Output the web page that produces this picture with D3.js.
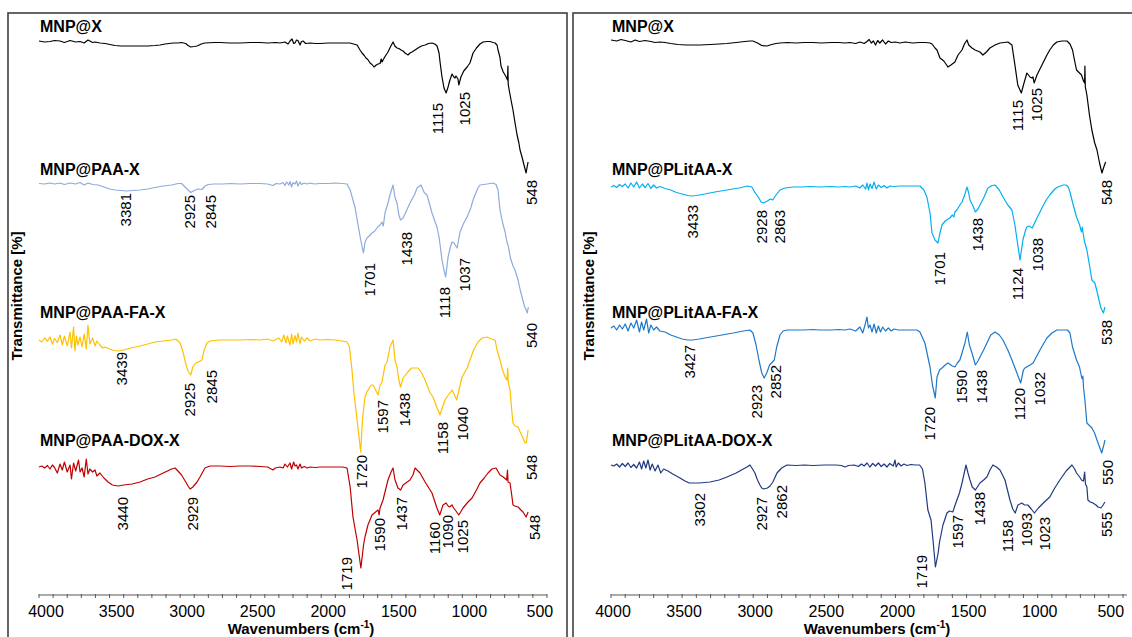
<!DOCTYPE html>
<html><head><meta charset="utf-8">
<script src="https://cdn.jsdelivr.net/npm/d3@7"></script>
<style>body{margin:0;background:#fff;} svg{display:block;font-family:"Liberation Sans",Arial,sans-serif;}</style>
</head><body><svg id="c" width="1132" height="637"></svg>
<script>
// ---------------- DATA ----------------
const tickLabels = [4000, 3500, 3000, 2500, 2000, 1500, 1000, 500];
const leftNames = ["MNP@X", "MNP@PAA-X", "MNP@PAA-FA-X", "MNP@PAA-DOX-X"];
const rightNames = ["MNP@X", "MNP@PLitAA-X", "MNP@PLitAA-FA-X", "MNP@PLitAA-DOX-X"];

// spectra: [wavenumber (cm-1), transmittance (offset, %)]
const L1 = [[4000,111.8],[3960,111.6],[3922,111.7],[3890,111.9],[3851,111.8],[3820,111.5],[3780,111.9],[3740,111.6],[3709,111.7],[3680,111.4],[3653,112],[3620,111.5],[3603,111.6],[3568,111.4],[3532,111.3],[3497,111.1],[3461,110.9],[3420,110.8],[3391,110.8],[3340,110.8],[3284,110.8],[3230,110.8],[3178,110.9],[3142,111],[3107,111.2],[3050,111.4],[3015,111.4],[2990,111.5],[2960,111.3],[2944,110.9],[2925,110.6],[2900,110.7],[2880,110.8],[2850,111.2],[2824,111.4],[2760,111.5],[2717,111.5],[2650,111.4],[2575,111.4],[2500,111.5],[2434,111.5],[2380,111.4],[2320,111.5],[2292,111.4],[2257,111.6],[2235,111.2],[2221,111.8],[2207,112.2],[2195,111.3],[2186,111.4],[2175,112],[2165,111.9],[2150,111],[2140,111.7],[2129,111.8],[2110,111.3],[2079,111.4],[2040,111.3],[2009,111.3],[1950,111.4],[1902,111.4],[1850,111.4],[1796,111.4],[1746,111],[1725,110],[1711,109.4],[1695,108.9],[1683,108.4],[1670,108.1],[1654,107.4],[1640,107.1],[1626,106.6],[1610,107],[1597,107.2],[1583,107.3],[1575,108.2],[1569,107.6],[1550,108.6],[1527,109.6],[1510,110.6],[1491,111.6],[1478,110.8],[1463,110.4],[1450,110.3],[1434,110],[1420,109.8],[1406,109.4],[1385,109],[1371,109.4],[1357,109.6],[1335,110],[1314,110.4],[1290,110.8],[1264,111],[1240,111.3],[1215,111.4],[1195,111.2],[1179,110.8],[1165,109.4],[1158,107.6],[1144,104.6],[1130,102.4],[1115,101.4],[1101,102.6],[1090,103.8],[1073,105.2],[1060,104.6],[1052,104.4],[1045,104.8],[1031,104.2],[1025,103],[1010,104.6],[990,105.8],[966,106.6],[946,107.4],[924,109.4],[900,110.4],[875,111.2],[853,111.6],[825,111.7],[804,111.7],[782,111.5],[768,111.4],[754,111],[747,110],[733,108.5],[726,106.8],[710,105.6],[697,105],[686,104.4],[680,104],[677,106.8],[675,103.2],[668,102],[655,100],[641,98],[627,95.5],[612,93],[600,91.5],[591,90],[577,88.6],[563,87],[548,85.4],[541,86.6],[534,87.6]];

const L2 = [[4000,83.3],[3960,83.2],[3922,83.4],[3890,83.2],[3851,83.4],[3820,83.1],[3780,83.4],[3740,83.2],[3709,83.5],[3680,83],[3653,83.4],[3620,83.1],[3580,83],[3540,82.6],[3500,82.2],[3460,82],[3420,81.9],[3381,81.8],[3340,81.9],[3284,82],[3230,82.2],[3178,82.5],[3120,82.8],[3060,83],[3015,83.3],[2990,83.3],[2965,82.6],[2944,82],[2925,81.5],[2900,81.9],[2870,82.2],[2845,82.1],[2824,82.8],[2800,83.1],[2760,83.2],[2700,83.2],[2640,83.3],[2575,83.2],[2500,83.3],[2434,83.3],[2380,83.2],[2342,82.9],[2320,83.3],[2292,83.2],[2270,83.5],[2257,82.9],[2245,83.6],[2230,83],[2221,83.7],[2210,82.6],[2200,83.5],[2186,83.2],[2175,83.8],[2165,82.8],[2150,83.6],[2140,83.1],[2120,83.4],[2100,83.2],[2079,83.4],[2050,83.2],[2009,83.3],[1950,83.3],[1902,83.4],[1850,83.3],[1817,83.2],[1795,82],[1761,78.6],[1739,75],[1720,72],[1701,69.4],[1690,71.5],[1676,72.4],[1660,72.8],[1640,73.4],[1620,73.8],[1600,74.6],[1583,75],[1570,75.6],[1560,74.8],[1548,77.4],[1527,79.4],[1513,81],[1491,83],[1477,80.5],[1463,79.4],[1450,77],[1438,76],[1420,76.4],[1400,77.6],[1371,79.4],[1340,81],[1321,82.4],[1293,83],[1270,81.5],[1250,81],[1215,77.4],[1180,74.6],[1165,72.6],[1144,68],[1130,66],[1118,64.6],[1101,68.6],[1085,70.6],[1073,71.6],[1059,71.4],[1050,71],[1037,70.4],[1016,73.6],[990,75.4],[966,76.6],[940,78.4],[924,80],[890,82.4],[875,83],[825,83.2],[782,83.4],[761,83.1],[747,82],[733,78],[715,75.5],[697,73.6],[683,71.5],[676,71],[660,68.5],[641,66.8],[627,66],[605,64],[590,62],[577,60.6],[560,58.8],[548,58],[540,57.4],[532,58.6]];

const L3 = [[4000,52],[3980,51.6],[3960,52.4],[3940,51.8],[3922,52.6],[3905,51.2],[3890,52.3],[3870,51.5],[3851,53],[3835,51],[3820,52.8],[3800,50.8],[3780,53.6],[3770,50.4],[3755,54.6],[3745,49.8],[3735,52.8],[3725,51],[3709,52.6],[3695,50.6],[3680,53.2],[3665,50.2],[3653,55],[3640,51.2],[3620,52.4],[3603,50.8],[3590,51.8],[3568,51],[3550,50.4],[3532,50.6],[3500,50.2],[3470,49.9],[3439,49.8],[3400,50],[3350,50.4],[3284,50.8],[3230,51.2],[3178,51.6],[3120,51.8],[3060,52],[3030,52.2],[3000,51.4],[2979,49.6],[2958,47],[2944,45.8],[2925,45],[2910,46.6],[2890,47.4],[2870,47.6],[2845,48],[2830,50],[2810,51.4],[2788,51.8],[2717,52],[2650,52],[2575,52],[2500,52.1],[2434,52],[2380,52.2],[2342,51.8],[2300,52.4],[2280,51.6],[2265,53],[2250,51.4],[2240,52.8],[2221,51],[2210,53.2],[2200,51.2],[2186,52.9],[2175,51.6],[2165,53.4],[2150,51.2],[2140,52.6],[2120,51.8],[2100,52.4],[2079,51.8],[2040,52.2],[2009,52],[1950,52.1],[1902,52],[1850,51.8],[1817,51.6],[1800,50.6],[1782,46],[1768,41.4],[1746,36],[1720,29.6],[1708,36],[1690,40.6],[1676,41.6],[1660,42.4],[1645,43],[1633,43],[1615,42],[1597,41],[1583,43],[1569,43.6],[1548,47],[1534,47.5],[1513,50.6],[1491,52],[1477,48],[1463,46.6],[1450,44],[1438,42.6],[1420,44.4],[1392,45.4],[1360,46.4],[1335,46.4],[1314,46.4],[1290,45.5],[1264,44],[1230,41.5],[1208,40.6],[1180,38.5],[1158,37],[1140,38.6],[1123,40],[1100,41],[1073,42],[1059,41.2],[1040,40],[1016,43],[1002,44.6],[966,46.4],[946,48],[920,50],[889,51.6],[860,52.4],[825,52.6],[795,52.2],[768,52],[754,50],[733,48],[715,46],[697,44.6],[684,44],[678,46.4],[675,43.6],[662,42],[650,38],[641,35.4],[627,34.8],[605,34.6],[590,33.6],[570,32.4],[556,31.4],[548,31.4],[541,32.5],[534,34]];

const L4 = [[4000,26.6],[3980,26.8],[3960,26.4],[3940,26.9],[3922,26.2],[3905,27],[3890,26.5],[3870,25.4],[3851,27.2],[3835,26],[3820,27.6],[3800,25.6],[3780,27],[3770,24.2],[3755,27.4],[3740,25.8],[3720,28],[3709,25.6],[3695,26.4],[3680,24.6],[3665,28.2],[3653,25.2],[3640,26.2],[3620,25.6],[3603,26],[3590,24.8],[3568,25.4],[3540,24.4],[3510,23.6],[3480,23],[3440,22.8],[3400,23],[3340,23.2],[3284,23.6],[3230,24.2],[3178,24.6],[3120,25.4],[3060,26.2],[3036,26.4],[3015,25.8],[2990,25],[2960,23.6],[2944,22.8],[2929,22.2],[2910,22.6],[2880,23.6],[2859,24.6],[2824,26.4],[2788,26.8],[2717,26.8],[2650,26.7],[2575,26.8],[2500,26.8],[2434,26.7],[2380,26.6],[2355,26.2],[2342,26],[2325,26.4],[2292,26.6],[2270,26.4],[2257,27.2],[2240,26.6],[2221,27.4],[2210,26.2],[2195,27.6],[2186,26.8],[2175,27],[2165,26.2],[2150,27.2],[2140,26.4],[2120,26.7],[2100,26.4],[2079,26.6],[2040,26.5],[2009,26.6],[1950,26.6],[1902,26.6],[1850,26.6],[1817,26.4],[1795,22.6],[1775,16.6],[1746,12],[1719,6.4],[1700,11],[1690,12.6],[1669,15],[1640,17],[1615,17.6],[1597,18],[1590,17],[1583,18.4],[1562,20],[1527,24],[1505,25.6],[1491,26.4],[1477,24],[1456,22.4],[1437,22],[1420,23],[1371,24],[1350,25],[1335,26.4],[1300,25.4],[1264,23.6],[1215,21.4],[1180,18.4],[1160,17],[1137,19],[1115,19.4],[1101,18.8],[1090,18.6],[1073,19],[1062,18.4],[1045,17.8],[1025,17],[995,18.4],[960,19.6],[931,20.4],[900,22],[875,23.4],[845,24.4],[818,25.4],[790,26.2],[761,26.4],[745,25.6],[733,25],[710,24.6],[686,24],[680,26],[676,23.6],[662,23.4],[650,21],[641,19],[627,18.8],[605,18.6],[585,18],[570,17.6],[548,16.6],[534,17.6]];

const R1 = [[4000,112],[3960,111.8],[3930,112.1],[3900,111.9],[3860,111.6],[3830,112],[3800,111.7],[3760,111.9],[3720,111.7],[3690,111.5],[3656,111.6],[3620,111.5],[3580,111.3],[3530,111.1],[3470,111],[3400,111],[3374,111],[3300,111.1],[3240,111.2],[3185,111.3],[3120,111.5],[3060,111.7],[3023,111.8],[3002,111.8],[2970,111.4],[2940,110.9],[2903,110.8],[2870,111.1],[2840,111.3],[2812,111.4],[2760,111.5],[2700,111.4],[2640,111.5],[2580,111.5],[2520,111.4],[2450,111.5],[2400,111.5],[2355,111.4],[2320,111.5],[2280,111.3],[2250,111.6],[2220,111.3],[2200,111.7],[2185,112.1],[2170,111.4],[2155,111.8],[2140,111],[2125,111.9],[2110,111.4],[2090,112],[2070,111.2],[2050,111.8],[2030,111.5],[2000,111.6],[1970,111.4],[1930,111.6],[1880,111.4],[1830,111.5],[1790,111.5],[1757,111.4],[1743,111.2],[1722,110.4],[1708,110],[1687,108.4],[1660,107.8],[1645,107.2],[1631,106.6],[1610,107],[1582,107.6],[1560,109],[1532,110],[1515,111.2],[1497,112],[1485,111],[1462,110.4],[1440,110],[1406,109.6],[1385,109],[1360,109.6],[1336,110.4],[1300,111],[1265,111.4],[1209,111.6],[1181,111],[1160,107],[1140,103],[1115,101.4],[1100,103],[1076,105.4],[1054,104.6],[1040,104.4],[1033,104.6],[1025,103.4],[1005,105],[963,107.4],[935,109],[915,110],[890,111],[865,111.6],[830,111.8],[794,111.8],[773,111.2],[755,110],[740,107.8],[727,106],[706,105.4],[692,105],[678,103.8],[670,103.4],[668,106.8],[665,102.6],[654,101],[636,97],[619,94],[600,91.5],[583,90],[565,87.4],[548,85.4],[535,86.6],[522,87.6]];

const R2 = [[4000,82.6],[3980,82.9],[3960,82.5],[3940,83.1],[3920,82.7],[3900,83.2],[3880,82.4],[3860,83.4],[3840,82.6],[3820,83.6],[3800,82.4],[3780,83.2],[3760,82.5],[3740,83.3],[3720,82.3],[3700,83],[3680,82.4],[3656,82.7],[3620,82.3],[3580,82],[3540,81.5],[3500,81.2],[3460,80.9],[3433,80.8],[3400,80.9],[3340,81.2],[3270,81.6],[3185,82],[3100,82.4],[3040,82.8],[3010,82.6],[2990,81.6],[2960,80.4],[2945,79.6],[2928,79.4],[2900,79.8],[2880,80.2],[2863,80],[2840,81],[2812,82],[2777,82.4],[2720,82.6],[2660,82.6],[2600,82.7],[2531,82.6],[2450,82.7],[2400,82.6],[2355,82.7],[2320,82.6],[2280,82.8],[2250,82.4],[2230,83],[2210,82.2],[2200,83.4],[2190,82],[2179,83.2],[2165,82.3],[2150,83.6],[2135,82.2],[2120,83],[2100,82.5],[2080,82.9],[2060,82.4],[2039,82.8],[2010,82.7],[1970,82.8],[1920,82.8],[1870,82.8],[1828,82.8],[1800,82],[1779,80.6],[1757,77.4],[1743,73.4],[1722,72],[1701,71.4],[1690,73],[1673,75],[1650,75.8],[1630,76.2],[1617,76.4],[1600,77],[1590,76.6],[1582,77.6],[1568,78],[1547,79],[1532,79.6],[1511,81.2],[1497,82.6],[1485,81.4],[1476,80],[1455,78.8],[1438,77.6],[1420,78.2],[1406,79],[1380,80.4],[1350,82.4],[1320,82.9],[1300,83],[1270,82],[1244,80.6],[1210,79],[1181,78],[1160,75],[1145,72],[1124,68],[1104,72],[1085,74],[1076,74.6],[1060,74.8],[1050,74.6],[1038,74.4],[1005,76.4],[970,78.4],[940,80],[915,81],[880,82.2],[858,82.6],[820,83],[801,83],[785,82.6],[773,81.6],[750,79],[727,76.6],[705,75],[692,73.6],[686,74.6],[683,73.8],[670,71.6],[654,70],[636,67],[619,64],[605,63.6],[598,63.4],[580,61.4],[569,60],[555,58.4],[545,57.8],[538,57.4],[527,58.6]];

const R3 = [[4000,54.4],[3980,54.8],[3960,54],[3940,55],[3920,54.2],[3900,55.2],[3880,53.8],[3860,55.4],[3840,54.4],[3820,56],[3800,53.6],[3785,55.6],[3770,54],[3750,56.2],[3735,53.4],[3720,55],[3700,54],[3680,54.6],[3656,53.8],[3620,53.6],[3580,53],[3540,52.6],[3500,52.2],[3460,52],[3427,52],[3380,52.2],[3300,52.6],[3220,53],[3140,53.4],[3070,53.8],[3023,54],[3002,53.4],[2980,51],[2960,48],[2940,45.4],[2923,44.4],[2905,45.4],[2885,47],[2865,47.6],[2852,48],[2835,50.6],[2812,53],[2790,53.8],[2760,54],[2700,54],[2640,54],[2580,54.1],[2531,54],[2450,54],[2400,54.1],[2355,54],[2320,54.2],[2280,53.8],[2250,54.6],[2230,53.4],[2212,55.2],[2200,56.6],[2190,54.4],[2179,55],[2165,53.6],[2150,55.2],[2135,53.4],[2120,54.8],[2105,53.6],[2090,54.6],[2070,53.8],[2050,54.4],[2030,53.8],[2010,54.2],[1980,54],[1940,54],[1900,54],[1849,54],[1828,53.6],[1793,51.4],[1772,48.6],[1757,46.6],[1740,43],[1720,40.4],[1708,44.6],[1690,46],[1673,46.4],[1650,47],[1631,47.4],[1600,46.8],[1582,46.6],[1565,47.4],[1547,48],[1530,49.6],[1511,51.4],[1495,53.6],[1480,51],[1462,49.4],[1438,47],[1420,47.8],[1406,48.6],[1380,50],[1357,51.4],[1330,53],[1300,53.6],[1270,53],[1244,52],[1210,50],[1181,48],[1146,45.4],[1120,43.4],[1100,46],[1090,46.4],[1054,47],[1032,47.4],[1010,48.6],[984,50],[960,51.2],[935,52.4],[900,53.4],[865,54],[830,54],[790,54],[773,53.4],[755,50.6],[727,48],[706,46.6],[690,44.4],[685,44.2],[682,44.8],[678,42.6],[668,40],[654,35.4],[640,35],[625,34.6],[619,34.4],[600,33.4],[583,32],[565,30.6],[550,29.4],[535,31],[527,32]];

const R4 = [[4000,27],[3980,26.8],[3960,27.2],[3940,26.6],[3920,27.3],[3900,26.7],[3880,27.4],[3860,26.5],[3840,27.1],[3820,26.4],[3800,27.6],[3785,26.2],[3770,27.8],[3755,26.4],[3740,28],[3725,26],[3710,27.2],[3690,25.8],[3670,27],[3650,25.4],[3630,26.2],[3600,25.8],[3566,25.2],[3540,24.8],[3515,24.4],[3480,23.8],[3450,23.4],[3431,23.4],[3380,23.4],[3304,23.6],[3240,24],[3185,24.6],[3120,25.4],[3070,26.2],[3044,26.6],[3023,27],[3005,26.2],[2988,25.4],[2970,24],[2953,23],[2940,22.4],[2927,22.2],[2900,22.4],[2882,22.8],[2862,23.6],[2833,25.4],[2800,26.4],[2763,27],[2700,26.9],[2640,27],[2580,26.9],[2500,27],[2420,27],[2380,26.9],[2355,26.6],[2330,26.9],[2290,27],[2260,26.7],[2240,27.2],[2220,26.8],[2200,27.4],[2180,26.6],[2160,27.3],[2140,26.8],[2120,27.4],[2100,26.7],[2080,27.2],[2060,26.6],[2040,27.3],[2015,26.8],[2003,28],[1995,26.6],[1980,27.4],[1960,26.8],[1940,27.2],[1920,26.9],[1890,27.1],[1860,27],[1830,27],[1810,26.2],[1793,23.4],[1772,18],[1750,16],[1736,12],[1719,6.6],[1700,9.4],[1690,11.6],[1666,15],[1638,17.4],[1620,17.8],[1597,17.6],[1585,18.6],[1568,20],[1550,21.4],[1532,23.4],[1504,27],[1490,25.4],[1476,24],[1460,22.6],[1438,22],[1420,22.8],[1406,23.4],[1380,24],[1357,24.6],[1335,26],[1315,27],[1290,26.6],[1265,26],[1230,24],[1195,20],[1175,18.2],[1158,17.4],[1139,19],[1111,19.4],[1093,19],[1069,19],[1045,18.2],[1023,17.4],[995,18.4],[960,19.4],[915,20.6],[880,22.4],[844,24],[800,25.8],[759,27],[740,26.2],[727,25.4],[705,24.6],[692,24],[678,23.8],[670,25.6],[664,23.2],[654,22.6],[647,20],[630,19.6],[612,19.4],[590,19],[576,18.6],[555,18.4],[540,19],[527,19.6]];

// peak annotations: [text, wavenumber where the label sits, transmittance at label top]
const L1_peaks = [["1115",1172,99.4],["1025",981,101.6],["548",506,84]];
const L2_peaks = [["3381",3383,81.4],["2925",2930,81],["2845",2781,81],["1701",1654,67.4],["1438",1392,73.6],["1118",1123,62.6],["1037",981,68.4],["540",506,55.4]];
const L3_peaks = [["3439",3412,49.6],["2925",2930,43.4],["2845",2774,46],["1720",1711,29],["1597",1562,40],["1438",1406,41.4],["1158",1137,35.6],["1040",995,38.6],["548",506,29]];
const L4_peaks = [["3440",3405,20.6],["2929",2909,20.6],["1719",1817,8.6],["1590",1583,16.4],["1437",1427,20.6],["1160",1194,15.6],["1090",1101,17],["1025",995,16],["548",485,17]];
const R1_peaks = [["1115",1139,100],["1025",1005,102.4],["548",513,84]];
const R2_peaks = [["3433",3424,79],["2928",2938,78],["2863",2812,78],["1701",1687,69.6],["1438",1420,76.4],["1124",1139,66.4],["1038",998,72.4],["538",513,56]];
const R3_peaks = [["3427",3445,51],["2923",2974,43],["2852",2840,47],["1720",1757,38.6],["1590",1532,46],["1438",1392,46],["1120",1125,42.4],["1032",984,45.6],["550",506,28]];
const R4_peaks = [["3302",3374,21.4],["2927",2938,20.6],["2862",2798,23],["1719",1814,9],["1597",1561,17],["1438",1406,21.6],["1158",1209,16],["1093",1075,17.4],["1023",949,16.6],["555",513,17.6]];

const leftColors = ["#000000", "#8FAADC", "#FFC000", "#C00000"];
const rightColors = ["#000000", "#00B0F0", "#1F78C8", "#1F3A80"];

// ---------------- LAYOUT ----------------
const svg = d3.select("#c");
const y = d3.scaleLinear().domain([0, 120]).range([600, 0]);
const nameBaselines = [32, 175, 318, 446];

const panels = [
  {box:[8,13,559,640], xr:[39,547], dom:[4000,400], series:[L1,L2,L3,L4], peaks:[L1_peaks,L2_peaks,L3_peaks,L4_peaks], names:leftNames, colors:leftColors, nameX:40, labDx:7, ytX:22},
  {box:[573,13,570,640], xr:[611,1127], dom:[4000,372], series:[R1,R2,R3,R4], peaks:[R1_peaks,R2_peaks,R3_peaks,R4_peaks], names:rightNames, colors:rightColors, nameX:612, labDx:2, ytX:594}
];

panels.forEach(p => {
  const g = svg.append("g");
  g.append("rect").attr("x", p.box[0]).attr("y", p.box[1]).attr("width", p.box[2]).attr("height", p.box[3])
    .attr("fill", "none").attr("stroke", "#404040").attr("stroke-width", 1.6);

  const x = d3.scaleLinear().domain(p.dom).range(p.xr);
  const axisY = 595;
  g.append("line").attr("x1", p.xr[0]).attr("x2", p.xr[1]).attr("y1", axisY).attr("y2", axisY)
    .attr("stroke", "#595959").attr("stroke-width", 1);
  g.selectAll(".mt").data(d3.range(4000, p.dom[1] - 1, -100)).enter().append("line")
    .attr("x1", d => x(d)).attr("x2", d => x(d)).attr("y1", axisY - 1).attr("y2", axisY + 3)
    .attr("stroke", "#595959").attr("stroke-width", 1);
  g.selectAll(".tl").data(tickLabels).enter().append("text")
    .attr("x", d => x(d) + p.labDx).attr("y", 617).attr("text-anchor", "middle")
    .attr("font-size", 16).attr("fill", "#000").text(d => d);

  const xt = g.append("text").attr("x", (p.xr[0] + p.xr[1]) / 2 + 8).attr("y", 634).attr("text-anchor", "middle")
    .attr("font-size", 15).attr("font-weight", "bold").attr("fill", "#000");
  xt.append("tspan").text("Wavenumbers (cm");
  xt.append("tspan").attr("font-size", 10).attr("dy", -6).text("-1");
  xt.append("tspan").attr("dy", 6).text(")");

  g.append("text").attr("transform", `translate(${p.ytX},296) rotate(-90)`).attr("text-anchor", "middle")
    .attr("font-size", 15).attr("font-weight", "bold").attr("fill", "#000").text("Transmittance [%]");

  const line = d3.line().x(d => x(d[0])).y(d => y(d[1]));
  p.series.forEach((s, i) => {
    g.append("path").datum(s).attr("d", line).attr("fill", "none")
      .attr("stroke", p.colors[i]).attr("stroke-width", 1.2).attr("stroke-linejoin", "round");
    g.append("text").attr("x", p.nameX).attr("y", nameBaselines[i]).attr("font-size", 16)
      .attr("font-weight", "bold").attr("fill", "#000").text(p.names[i]);
    p.peaks[i].forEach(pk => {
      const cx = x(pk[1]), ty = y(pk[2]);
      g.append("text").attr("transform", `translate(${cx},${ty}) rotate(-90)`)
        .attr("text-anchor", "end").attr("dy", "0.36em").attr("font-size", 15).attr("fill", "#000").text(pk[0]);
    });
  });
});
</script></body></html>
